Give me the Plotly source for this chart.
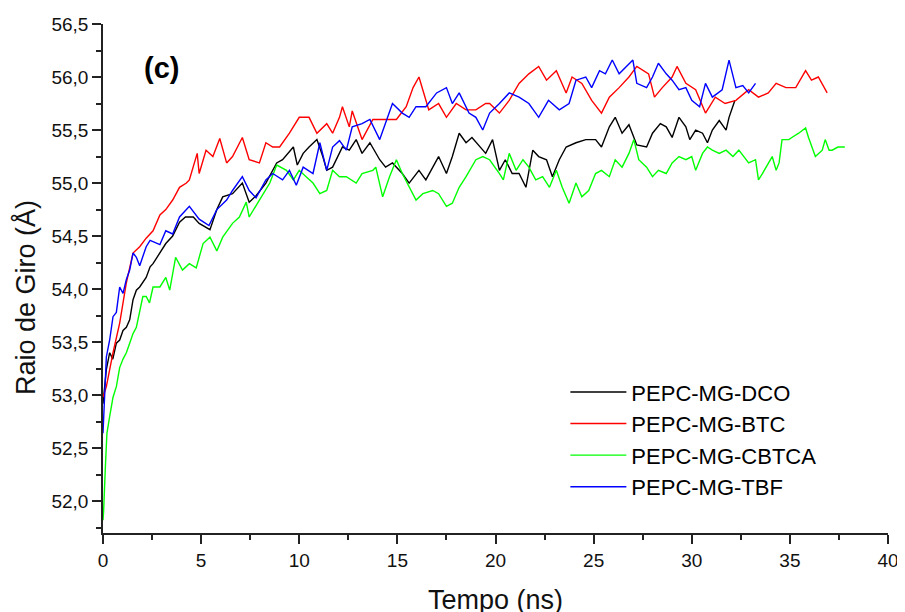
import plotly.graph_objects as go

# ---- data (time in ns, radius of gyration in Å) ----
series_names = ["PEPC-MG-DCO", "PEPC-MG-BTC", "PEPC-MG-CBTCA", "PEPC-MG-TBF"]

t_dco = [0, 0.17, 0.34, 0.5, 0.68, 0.85, 1.02, 1.19, 1.36, 1.53, 1.7, 1.87, 2.2, 2.4, 2.55, 2.9, 3.2, 3.55,
         3.9, 4.2, 4.6, 4.9, 5.45, 5.8, 6.1, 6.6, 7.1, 7.45, 7.8, 8.3, 8.85, 9.15, 9.7, 9.9, 10.2, 10.5,
         10.9, 11.2, 11.4, 11.7, 12.2, 12.55, 12.9, 13.2, 13.6, 14.1, 14.4, 14.75, 15.25, 15.6, 16.1,
         16.45, 16.8, 17.1, 17.5, 17.8, 18.15, 18.5, 18.8, 19.2, 19.5, 19.85, 20.2, 20.5, 20.85, 21.2,
         21.55, 21.9, 22.2, 22.6, 22.9, 23.25, 23.6, 24.1, 24.6, 25.1, 25.4, 25.8, 26.1, 26.45, 26.8,
         27.2, 27.7, 28.0, 28.4, 28.7, 29.0, 29.35, 29.7, 29.9, 30.2, 30.55, 30.8, 31.05, 31.4, 31.75,
         31.9, 32.2]
y_dco = [52.92, 53.24, 53.4, 53.34, 53.49, 53.52, 53.61, 53.64, 53.71, 53.9, 53.99, 54.02, 54.11, 54.21,
         54.24, 54.34, 54.43, 54.5, 54.63, 54.68, 54.68, 54.62, 54.56, 54.75, 54.87, 54.9, 55.0, 54.82,
         54.88, 55.0, 55.19, 55.22, 55.34, 55.17, 55.28, 55.34, 55.41, 55.25, 55.12, 55.15, 55.34, 55.31,
         55.41, 55.28, 55.38, 55.22, 55.15, 55.19, 55.09, 55.0, 55.12, 55.03, 55.15, 55.25, 55.09, 55.25,
         55.47, 55.38, 55.43, 55.34, 55.28, 55.41, 55.12, 55.22, 55.09, 55.09, 54.96, 55.31, 55.25, 55.22,
         55.06, 55.22, 55.34, 55.38, 55.41, 55.41, 55.34, 55.53, 55.62, 55.47, 55.55, 55.36, 55.34, 55.47,
         55.56, 55.53, 55.43, 55.62, 55.53, 55.41, 55.5, 55.47, 55.38, 55.5, 55.59, 55.5, 55.62, 55.78]

t_btc = [0, 0.17, 0.51, 0.85, 1.19, 1.53, 1.87, 2.2, 2.55, 2.9, 3.2, 3.55, 3.9, 4.25, 4.4, 4.8, 4.9, 5.25,
         5.6, 5.95, 6.3, 6.6, 7.1, 7.45, 7.97, 8.3, 8.65, 9.0, 9.5, 10.0, 10.5, 10.9, 11.4, 11.7, 12.05,
         12.2, 12.55, 12.7, 13.2, 13.75, 14.25, 14.95, 15.45, 15.8, 16.1, 16.3, 16.6, 17.1, 17.5, 18.0,
         18.5, 19.0, 19.5, 19.7, 20.2, 20.7, 21.2, 21.7, 22.2, 22.6, 23.1, 23.6, 23.9, 24.4, 24.9, 25.4,
         25.8, 26.3, 26.8, 27.2, 27.8, 28.1, 28.5, 29.0, 29.25, 29.7, 30.2, 30.7, 31.2, 31.7, 32.25,
         32.9, 33.4, 33.9, 34.3, 34.8, 35.3, 35.8, 36.1, 36.45, 36.9]
y_btc = [52.98, 53.08, 53.4, 53.68, 54.06, 54.34, 54.4, 54.48, 54.55, 54.7, 54.75, 54.84, 54.96, 55.0,
         55.03, 55.28, 55.09, 55.31, 55.25, 55.42, 55.19, 55.25, 55.43, 55.22, 55.19, 55.38, 55.34, 55.34,
         55.47, 55.62, 55.62, 55.47, 55.56, 55.47, 55.62, 55.72, 55.53, 55.68, 55.41, 55.6, 55.6, 55.6,
         55.72, 55.9, 56.0, 55.88, 55.69, 55.75, 55.62, 55.75, 55.69, 55.69, 55.75, 55.75, 55.66, 55.78,
         55.94, 56.03, 56.1, 55.97, 56.06, 55.85, 56.0, 55.94, 55.78, 55.66, 55.81, 55.9, 56.0, 56.1,
         56.03, 55.81, 55.9, 56.0, 56.1, 55.94, 55.88, 55.66, 55.81, 55.75, 55.78, 55.88, 55.81, 55.85,
         55.94, 55.9, 55.9, 56.06, 55.97, 56.0, 55.85]

t_cbtca = [0, 0.03, 0.12, 0.2, 0.34, 0.51, 0.68, 0.85, 1.02, 1.19, 1.36, 1.53, 1.7, 1.87, 2.03, 2.2, 2.37,
           2.55, 2.9, 3.2, 3.4, 3.7, 4.05, 4.4, 4.75, 5.1, 5.45, 5.8, 6.1, 6.6, 6.95, 7.3, 7.45, 7.97, 8.5,
           8.85, 9.35, 9.7, 10.0, 10.35, 10.7, 11.05, 11.4, 11.7, 12.05, 12.4, 12.9, 13.2, 13.75, 13.9,
           14.25, 14.6, 14.95, 15.25, 15.6, 15.95, 16.3, 16.8, 17.1, 17.5, 17.8, 18.15, 18.5, 19.0, 19.35,
           19.7, 20.2, 20.4, 20.7, 21.05, 21.4, 21.7, 22.05, 22.4, 22.75, 23.1, 23.4, 23.75, 24.1, 24.4,
           24.75, 25.1, 25.4, 25.8, 26.1, 26.45, 26.8, 27.05, 27.3, 27.7, 28.0, 28.3, 28.7, 29.0, 29.35,
           29.7, 30.0, 30.2, 30.55, 30.8, 31.05, 31.4, 31.75, 32.1, 32.4, 32.9, 33.25, 33.4, 33.6, 33.9,
           34.1, 34.3, 34.45, 34.6, 34.95, 35.1, 35.45, 35.8, 35.95, 36.3, 36.65, 36.8, 37.0, 37.15,
           37.45, 37.8]
y_cbtca = [51.82, 51.9, 52.32, 52.64, 52.8, 52.98, 53.08, 53.26, 53.34, 53.4, 53.49, 53.58, 53.64, 53.8,
           53.93, 53.93, 53.87, 54.02, 54.02, 54.11, 53.99, 54.3, 54.18, 54.24, 54.2, 54.43, 54.49, 54.36,
           54.49, 54.62, 54.68, 54.82, 54.68, 54.84, 55.0, 55.17, 55.12, 55.03, 55.12, 55.06, 55.0, 54.9,
           54.93, 55.12, 55.06, 55.06, 55.0, 55.09, 55.12, 55.15, 54.87, 55.06, 55.22, 55.09, 54.96, 54.84,
           54.9, 54.93, 54.9, 54.78, 54.81, 54.96, 55.06, 55.22, 55.25, 55.22, 55.09, 55.03, 55.28, 55.12,
           55.22, 55.15, 55.03, 55.06, 54.96, 55.12, 54.96, 54.81, 55.0, 54.87, 54.93, 55.09, 55.12, 55.06,
           55.22, 55.15, 55.28, 55.41, 55.22, 55.15, 55.06, 55.12, 55.09, 55.19, 55.25, 55.22, 55.25, 55.12,
           55.28, 55.34, 55.31, 55.28, 55.31, 55.25, 55.31, 55.19, 55.22, 55.03, 55.09, 55.19, 55.25, 55.12,
           55.19, 55.41, 55.41, 55.43, 55.47, 55.52, 55.43, 55.25, 55.31, 55.41, 55.31, 55.31, 55.34, 55.34]

t_tbf = [0, 0.05, 0.17, 0.34, 0.51, 0.68, 0.85, 1.02, 1.19, 1.36, 1.53, 1.7, 1.87, 2.2, 2.4, 2.9, 3.2, 3.55,
         3.9, 4.4, 4.9, 5.4, 5.8, 6.3, 6.6, 7.1, 7.45, 7.8, 8.3, 8.65, 9.15, 9.5, 9.85, 10.2, 10.7, 11.05,
         11.4, 11.7, 12.05, 12.4, 12.7, 13.2, 13.6, 14.1, 14.4, 14.75, 15.25, 15.6, 15.95, 16.45, 17.0,
         17.5, 17.8, 18.15, 18.65, 19.0, 19.35, 19.7, 20.2, 20.7, 21.2, 21.7, 22.2, 22.7, 23.25, 23.75,
         24.1, 24.6, 24.9, 25.3, 25.6, 25.95, 26.3, 26.65, 27.0, 27.2, 27.7, 28.0, 28.3, 28.7, 29.0, 29.35,
         29.7, 30.0, 30.4, 30.7, 31.05, 31.55, 31.9, 32.25, 32.6, 32.9, 33.25]
y_tbf = [52.64, 52.89, 53.36, 53.52, 53.74, 53.78, 54.02, 53.96, 54.09, 54.18, 54.34, 54.3, 54.22, 54.4,
         54.46, 54.42, 54.55, 54.52, 54.68, 54.78, 54.66, 54.6, 54.75, 54.84, 54.93, 55.06, 54.93, 54.86,
         55.03, 55.09, 55.03, 55.12, 54.98, 55.15, 55.09, 55.38, 55.12, 55.34, 55.4, 55.31, 55.53, 55.56,
         55.6, 55.41, 55.56, 55.75, 55.66, 55.62, 55.72, 55.72, 55.85, 55.9, 55.75, 55.85, 55.66, 55.62,
         55.5, 55.66, 55.75, 55.85, 55.81, 55.75, 55.62, 55.78, 55.69, 55.75, 55.97, 56.0, 55.9, 56.06,
         56.03, 56.16, 56.03, 56.1, 56.16, 55.94, 55.9, 56.0, 56.13, 56.03, 55.97, 55.88, 55.9, 55.78,
         55.72, 55.94, 55.81, 55.88, 56.16, 55.9, 55.92, 55.85, 55.94]

for a, b in [(t_dco, y_dco), (t_btc, y_btc), (t_cbtca, y_cbtca), (t_tbf, y_tbf)]:
    assert len(a) == len(b), (len(a), len(b))

colors = ["#000000", "#FF0000", "#00FF00", "#0000FF"]
FONT = "Liberation Sans, Arial, sans-serif"

fig = go.Figure()
for name, tx, ty, c in zip(series_names, [t_dco, t_btc, t_cbtca, t_tbf],
                           [y_dco, y_btc, y_cbtca, y_tbf], colors):
    fig.add_trace(go.Scatter(x=tx, y=ty, mode="lines", name=name,
                             line=dict(color=c, width=1.4)))

axis_common = dict(showgrid=False, zeroline=False, showline=True, linecolor="#222222", linewidth=1.5,
                   ticks="outside", tickcolor="#222222", tickwidth=1.5, mirror=False,
                   tickfont=dict(family=FONT, size=19, color="#111111"))

# the page body has an 8 px margin, so the figure is drawn 8 px smaller and offset
fig.update_layout(
    width=897, height=604,
    margin=dict(l=95, r=17, t=16, b=79, autoexpand=False),
    paper_bgcolor="white", plot_bgcolor="white",
    separators=",.",
    showlegend=True,
    legend=dict(x=0.589, y=0.318, xanchor="left", yanchor="top",
                font=dict(family=FONT, size=22, color="#000000"),
                bgcolor="rgba(0,0,0,0)", itemwidth=56, tracegroupgap=0),
    xaxis=dict(range=[0, 40], dtick=5, tick0=0, ticklen=9,
               minor=dict(dtick=2.5, ticklen=5, ticks="outside", tickcolor="#222222", tickwidth=1.5),
               **axis_common),
    yaxis=dict(range=[51.7, 56.5], dtick=0.5, tick0=52, tickformat=".1f", ticklen=9,
               minor=dict(dtick=0.25, ticklen=5, ticks="outside", tickcolor="#222222", tickwidth=1.5),
               **axis_common),
    annotations=[
        dict(text="(c)", xref="paper", yref="paper", x=0.0739, y=0.9126, xanchor="center", yanchor="middle",
             showarrow=False, font=dict(family=FONT, size=29, color="#000000", weight="bold")),
        dict(text="Tempo (ns)", xref="paper", yref="paper", x=0.5, y=0, yshift=-67,
             xanchor="center", yanchor="middle", showarrow=False,
             font=dict(family=FONT, size=27, color="#111111")),
        dict(text="Raio de Giro (Å)", xref="paper", yref="paper", x=0, xshift=-77, y=0.4617,
             xanchor="center", yanchor="middle", textangle=-90, showarrow=False,
             font=dict(family=FONT, size=27, color="#111111")),
    ],
)

fig.write_html("out.html")
